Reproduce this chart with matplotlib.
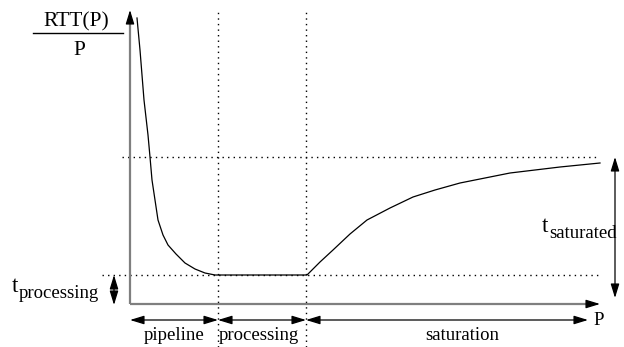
import matplotlib
matplotlib.use("Agg")
import matplotlib.pyplot as plt
from matplotlib.patches import FancyArrowPatch

# ---- data (schematic units: P along x, RTT(P)/P along y) ----
curve_p = [7, 10, 14, 18, 20, 22, 25, 28, 33, 38, 46, 55, 65, 75, 85,
           177, 190, 203, 220, 237, 260, 283, 305, 330, 355, 380, 405, 430, 450, 470]
curve_y = [286, 254, 204, 169, 147, 124, 104, 84, 69, 59, 50, 41, 35, 31, 29,
           29, 42, 54, 70, 84, 96, 107, 114, 121, 126, 131, 134, 137, 139, 141]
level_processing = 29
level_saturated = 147
region_bounds = [0, 88, 176, 458]
region_names = ["pipeline", "processing", "saturation"]
p_axis_end = 470
y_axis_end = 294

FONT = "Liberation Serif"
FS = 13.5

fig = plt.figure(figsize=(6.24, 3.47), dpi=100)
ax = fig.add_axes([0, 0, 1, 1])
ax.set_xlim(-130, 494)
ax.set_ylim(-43, 304)
ax.axis("off")

def arrow(x0, y0, x1, y1, style="-|>", color="black", lw=0.9):
    a = FancyArrowPatch((x0, y0), (x1, y1),
                        arrowstyle=f"{style},head_length=8.5,head_width=2.6",
                        mutation_scale=1, color=color, lw=lw,
                        shrinkA=0, shrinkB=0, zorder=4)
    ax.add_patch(a)

dot = (0, (1, 3))
# dotted reference lines
ax.plot([-28, 468], [level_processing] * 2, color="black", lw=1.0, ls=dot)
ax.plot([-8, 468], [level_saturated] * 2, color="black", lw=1.0, ls=dot)
for b in region_bounds[1:3]:
    ax.plot([b, b], [-43, 292], color="black", lw=1.0, ls=dot)

# axes (grey shafts, black heads)
ax.plot([0, 0], [0, y_axis_end - 10], color="#7f7f7f", lw=1.6, solid_capstyle="butt", zorder=3)
ax.plot([0, p_axis_end - 10], [0, 0], color="#7f7f7f", lw=1.6, solid_capstyle="butt", zorder=3)
arrow(0, y_axis_end - 12, 0, y_axis_end)
arrow(p_axis_end - 12, 0, p_axis_end, 0)

# curve
ax.plot(curve_p, curve_y, color="black", lw=0.9, zorder=5)

# region arrows and labels
label_x = [44.5, 129, 332]
for i, name in enumerate(region_names):
    a, b = region_bounds[i], region_bounds[i + 1]
    arrow(a, -16, b, -16, style="<|-|>")
    ax.text(label_x[i], -36, name, family=FONT, fontsize=FS,
            ha="center", va="baseline")
ax.text(463, -21, "P", family=FONT, fontsize=FS, ha="left", va="baseline")

# y label as fraction
ax.text(-53.5, 278, "RTT(P)", family=FONT, fontsize=15.5, ha="center", va="baseline")
ax.plot([-97, -7], [271, 271], color="black", lw=1.0)
ax.text(-51, 249, "P", family=FONT, fontsize=15.5, ha="center", va="baseline")

# t_processing
arrow(-16, level_processing, -16, -1, style="<|-|>")
ax.text(-118, 12, "t", family=FONT, fontsize=16.5, ha="left", va="baseline")
ax.text(-111, 6, "processing", family=FONT, fontsize=FS, ha="left", va="baseline")

# t_saturated
arrow(485, level_saturated, 485, 6, style="<|-|>")
ax.text(412, 72, "t", family=FONT, fontsize=16.5, ha="left", va="baseline")
ax.text(419, 66, "saturated", family=FONT, fontsize=FS, ha="left", va="baseline")

fig.savefig("out.png", dpi=100)
